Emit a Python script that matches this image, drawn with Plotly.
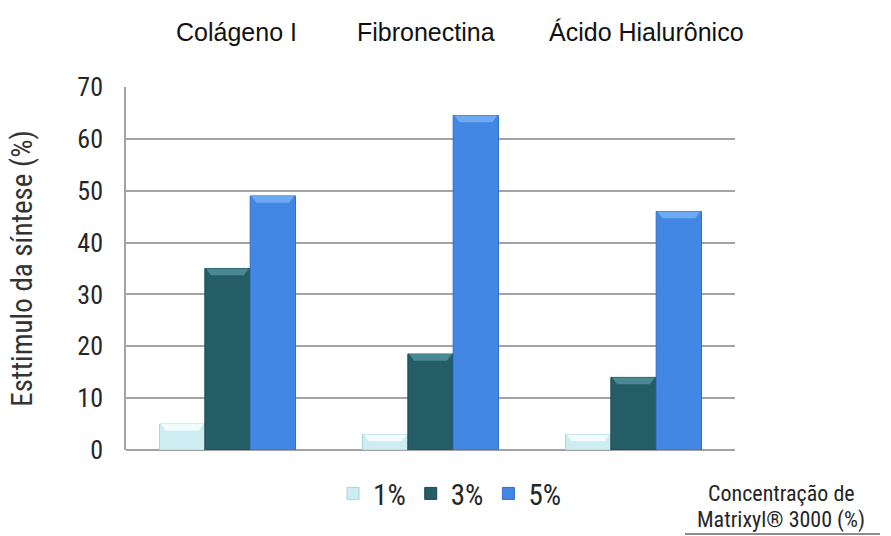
import plotly.graph_objects as go

# Data
categories = ["Colágeno I", "Fibronectina", "Ácido Hialurônico"]
series_names = ["1%", "3%", "5%"]
values_1 = [5, 3, 3]
values_3 = [35, 18.5, 14]
values_5 = [49, 64.5, 46]
y_ticks = [0, 10, 20, 30, 40, 50, 60, 70]
note_lines = ["Concentração de", "Matrixyl® 3000 (%)"]

# Styling
body_colors = ["#cdedf2", "#255d67", "#4287e3"]
edge_colors = ["#a9d6de", "#1d4a52", "#3270c4"]
cap_colors = ["#f4fdfe", "#4f8e98", "#72aef4"]
narrow = "Roboto Condensed, Liberation Sans Narrow, Arial Narrow, Liberation Sans, sans-serif"
regular = "Liberation Sans, Arial, sans-serif"
text_col = "#262626"

# plot area in pixels
W, H = 891, 536
M_L, M_R, M_T, M_B = 126, 156, 87, 86
plot_w = W - M_L - M_R
plot_h = H - M_T - M_B


def px_to_paper(x, y):
    return (x - M_L) / plot_w, (M_T + plot_h - y) / plot_h


bargap = 0.33
n_series = 3
bar_w = (1 - bargap) / n_series

fig = go.Figure()
all_values = [values_1, values_3, values_5]
for i, (name, vals) in enumerate(zip(series_names, all_values)):
    fig.add_trace(go.Bar(
        x=list(range(len(categories))), y=vals, name=name,
        marker=dict(color=body_colors[i], line=dict(color=edge_colors[i], width=1)),
    ))

# bevelled lighter cap on top of each bar, derived from the bar values
cap_h = 1.3
inset = 0.025
for i, vals in enumerate(all_values):
    off = (i - (n_series - 1) / 2) * bar_w
    for c, v in enumerate(vals):
        x0 = c + off - bar_w / 2 + 0.006
        x1 = c + off + bar_w / 2 - 0.006
        h = min(cap_h, v * 0.45)
        path = (f"M {x0},{v} L {x1},{v} L {x1 - inset},{v - h} "
                f"L {x0 + inset},{v - h} Z")
        fig.add_shape(type="path", xref="x", yref="y", path=path,
                      fillcolor=cap_colors[i], line=dict(width=0),
                      layer="above", opacity=0.9)

# category names across the top
label_shift = [9, -5, 13]
for c, (cat, dx) in enumerate(zip(categories, label_shift)):
    fig.add_annotation(x=c, y=1, xref="x", yref="paper", yshift=55, xshift=dx,
                       yanchor="middle", text=cat, showarrow=False,
                       font=dict(family=regular, size=25, color="#111111"))

# axis-name note at the lower right, second line underlined
for line, y_px in zip(note_lines, [494, 520]):
    nx, ny = px_to_paper(781, y_px)
    fig.add_annotation(x=nx, y=ny, xref="paper", yref="paper", text=line,
                       showarrow=False, xanchor="center", yanchor="middle",
                       font=dict(family=narrow, size=22, color=text_col))
ux0, uy = px_to_paper(685, 534)
ux1, _ = px_to_paper(880, 534)
fig.add_shape(type="line", xref="paper", yref="paper",
              x0=ux0, x1=ux1, y0=uy, y1=uy,
              line=dict(color="#8c8c8c", width=2))

fig.update_layout(
    width=W, height=H,
    margin=dict(l=M_L, r=M_R, t=M_T, b=M_B),
    paper_bgcolor="white", plot_bgcolor="white",
    barmode="group", bargap=bargap, bargroupgap=0,
    showlegend=True,
    legend=dict(orientation="h", x=0.34, y=-0.12, xanchor="left", yanchor="middle",
                font=dict(family=narrow, size=29, color=text_col),
                itemwidth=30, tracegroupgap=0),
    xaxis=dict(range=[-0.5, 2.5], showticklabels=False, showgrid=False,
               zeroline=False, showline=False, ticks=""),
    yaxis=dict(range=[0, 70], tickvals=y_ticks, showgrid=True,
               gridcolor="#a3a3a3", gridwidth=1.6,
               showline=True, linecolor="#a3a3a3", linewidth=1.6,
               zeroline=True, zerolinecolor="#a3a3a3", zerolinewidth=1.6,
               ticks="", ticklabelstandoff=16,
               tickfont=dict(family=narrow, size=26, color=text_col),
               title=dict(text="Esttimulo da síntese (%)", standoff=36,
                          font=dict(family=narrow, size=29, color="#333333"))),
)

fig.write_html("out.html")
